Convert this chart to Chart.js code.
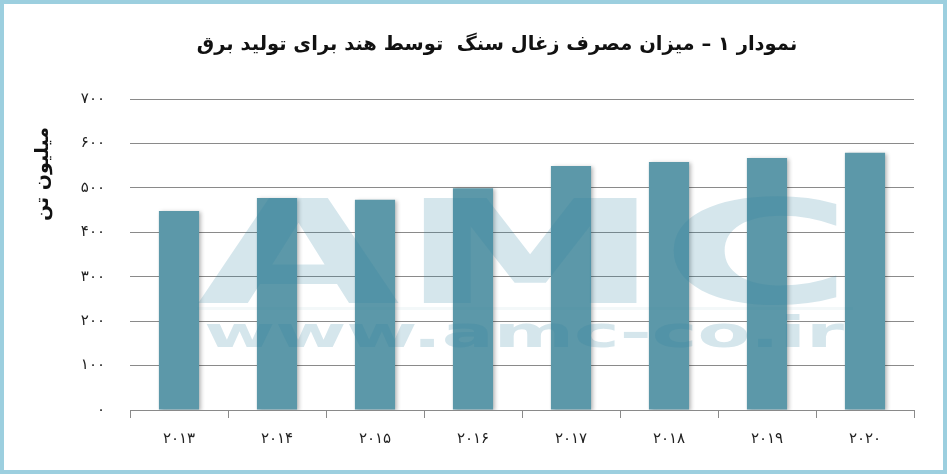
<!DOCTYPE html>
<html>
<head>
<meta charset="utf-8">
<script src="https://cdn.jsdelivr.net/npm/chart.js@4.4.1/dist/chart.umd.min.js"></script>
<style>
  html, body { margin: 0; padding: 0; background: #fff; }
  #wrap { width: 947px; height: 474px; position: relative; }
</style>
</head>
<body>
<div id="wrap"><canvas id="myChart" width="947" height="474"></canvas></div>
<script>
// data (million tonnes)
const years = ['۲۰۱۳', '۲۰۱۴', '۲۰۱۵', '۲۰۱۶', '۲۰۱۷', '۲۰۱۸', '۲۰۱۹', '۲۰۲۰'];
const coal = [448, 477, 473, 499, 549, 558, 567, 579];
const yTicks = [0, 100, 200, 300, 400, 500, 600, 700];

const titleText = 'نمودار ۱ – میزان مصرف زغال سنگ  توسط هند برای تولید برق';
const yTitle = 'میلیون تن';

function fa(n) {
    return String(n).replace(/[0-9]/g, d => '۰۱۲۳۴۵۶۷۸۹'[d]);
}

// title, axis name, watermark and frame
const extras = {
    id: 'extras',
    beforeDatasetsDraw(chart) {
        const ctx = chart.ctx;
        ctx.save();
        ctx.shadowColor = 'rgba(0,0,0,0.28)';
        ctx.shadowBlur = 4;
        ctx.shadowOffsetX = 2;
        ctx.shadowOffsetY = 1;
    },
    afterDatasetsDraw(chart) {
        chart.ctx.restore();
    },
    afterDraw(chart) {
        const ctx = chart.ctx;
        ctx.save();
        // watermark
        ctx.fillStyle = 'rgba(45,130,160,0.2)';
        ctx.font = 'bold 144px "DejaVu Sans"';
        ctx.textBaseline = 'alphabetic';
        ctx.textAlign = 'left';
        let w = ctx.measureText('AMC').width;
        ctx.save();
        ctx.translate(197, 303);
        ctx.scale(656 / w, 1);
        ctx.fillText('AMC', 0, 0);
        ctx.restore();
        ctx.fillStyle = 'rgba(45,130,160,0.06)';
        ctx.fillRect(197, 307, 656, 3);
        ctx.fillStyle = 'rgba(45,130,160,0.2)';
        ctx.font = 'bold 43px "DejaVu Sans"';
        w = ctx.measureText('www.amc-co.ir').width;
        ctx.save();
        ctx.translate(204, 347);
        ctx.scale(640 / w, 1);
        ctx.fillText('www.amc-co.ir', 0, 0);
        ctx.restore();

        // title
        ctx.fillStyle = '#111';
        ctx.direction = 'rtl';
        ctx.textAlign = 'center';
        ctx.textBaseline = 'middle';
        ctx.font = 'bold 19.5px "DejaVu Sans"';
        ctx.fillText(titleText, 497, 45);

        // y axis name
        ctx.save();
        ctx.translate(43, 174);
        ctx.rotate(-Math.PI / 2);
        ctx.font = 'bold 19px "DejaVu Sans"';
        ctx.fillText(yTitle, 0, 0);
        ctx.restore();

        // frame
        ctx.strokeStyle = '#9ccfdf';
        ctx.lineWidth = 4;
        ctx.strokeRect(2, 2, 943, 470);
        ctx.restore();
    }
};

new Chart('myChart', {
    type: 'bar',
    data: {
        labels: years,
        datasets: [{
            data: coal,
            backgroundColor: '#5c98a9',
            barPercentage: 0.41,
            categoryPercentage: 1
        }]
    },
    options: {
        responsive: false,
        animation: false,
        layout: { padding: { top: 99, right: 33, left: 0, bottom: 0 } },
        plugins: {
            legend: { display: false },
            title: { display: false },
            tooltip: { enabled: false }
        },
        scales: {
            x: {
                grid: {
                    display: true,
                    offset: true,
                    drawOnChartArea: false,
                    drawTicks: true,
                    tickLength: 8,
                    color: '#8a8a8a'
                },
                border: { display: true, color: '#8a8a8a' },
                ticks: {
                    color: '#222',
                    padding: 12,
                    font: { family: 'DejaVu Sans', size: 15 }
                },
                afterFit(s) { s.height = 64; }
            },
            y: {
                min: 0,
                max: 700,
                afterBuildTicks(s) { s.ticks = yTicks.map(v => ({ value: v })); },
                grid: { color: '#8a8a8a', drawTicks: false },
                border: { display: false },
                ticks: {
                    color: '#222',
                    padding: 25,
                    font: { family: 'DejaVu Sans', size: 15 },
                    callback: v => fa(v)
                },
                afterFit(s) { s.width = 130; }
            }
        }
    },
    plugins: [extras]
});
</script>
</body>
</html>
